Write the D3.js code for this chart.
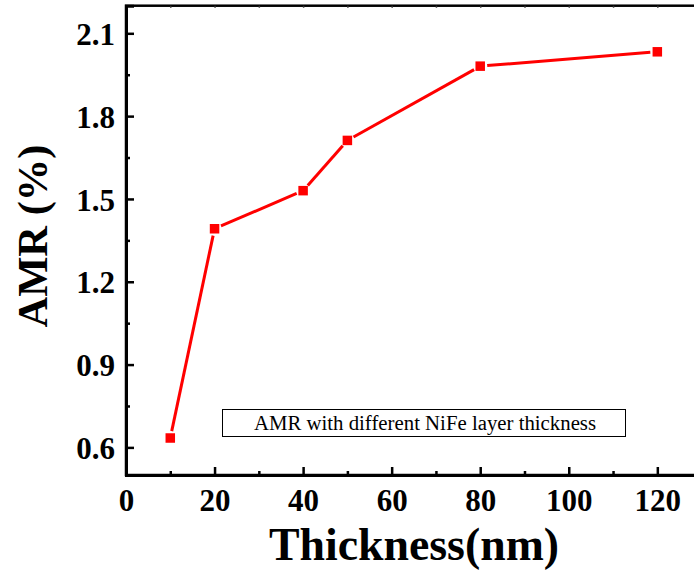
<!DOCTYPE html>
<html><head><meta charset="utf-8">
<script src="https://cdn.jsdelivr.net/npm/d3@7"></script>
<style>html,body{margin:0;padding:0;background:#fff;}svg{display:block;}</style>
</head><body>
<svg id="c" width="694" height="573"></svg>
<script>
const thickness = [10, 20, 40, 50, 80, 120];
const amr = [0.634, 1.392, 1.530, 1.712, 1.981, 2.033];
const xTicks = [0, 20, 40, 60, 80, 100, 120];
const xMinor = [10, 30, 50, 70, 90, 110, 130];
const yTicks = [0.6, 0.9, 1.2, 1.5, 1.8, 2.1];
const yMinor = [0.75, 1.05, 1.35, 1.65, 1.95];
const legendText = "AMR with different NiFe layer thickness";
const xTitle = "Thickness(nm)";
const yTitle = "AMR (%)";

const svg = d3.select("#c");
const L = 126, R = 701.6, T = 5.7, B = 475;
const x = d3.scaleLinear().domain([0, 130]).range([L, R]);
const y = d3.scaleLinear().domain([0.5, 2.2]).range([B, T]);
const serif = "'Liberation Serif','Times New Roman',serif";

// frame
svg.append("rect").attr("x", L).attr("y", T).attr("width", R - L).attr("height", B - T)
  .attr("fill", "none").attr("stroke", "#000").attr("stroke-width", 2.5);

// bottom axis
const gx = svg.append("g").attr("transform", `translate(0,${B})`)
  .call(d3.axisBottom(x).tickValues(xTicks).tickSize(-8).tickPadding(14).tickFormat(d3.format("d")));
gx.select(".domain").attr("stroke-width", 3);
gx.selectAll(".tick line").attr("stroke-width", 2.5);
gx.selectAll("text").attr("font-family", serif).attr("font-weight", "bold").attr("font-size", 31).attr("dy", "0.71em");
const gxm = svg.append("g").attr("transform", `translate(0,${B})`)
  .call(d3.axisBottom(x).tickValues(xMinor).tickSize(-4).tickFormat(""));
gxm.select(".domain").remove();
gxm.selectAll(".tick line").attr("stroke-width", 2.5);

// top ticks
const gt = svg.append("g").attr("transform", `translate(0,${T})`)
  .call(d3.axisTop(x).tickValues(xTicks.concat(xMinor)).tickSize(-2).tickFormat(""));
gt.select(".domain").remove();
gt.selectAll(".tick line").attr("stroke-width", 1.5).attr("stroke", "#333");

// left axis
const gy = svg.append("g").attr("transform", `translate(${L},0)`)
  .call(d3.axisLeft(y).tickValues(yTicks).tickSize(-8).tickPadding(11).tickFormat(d3.format(".1f")));
gy.select(".domain").attr("stroke-width", 3);
gy.selectAll(".tick line").attr("stroke-width", 2.5);
gy.selectAll("text").attr("font-family", serif).attr("font-weight", "bold").attr("font-size", 31).attr("dy", "0.36em");
const gym = svg.append("g").attr("transform", `translate(${L},0)`)
  .call(d3.axisLeft(y).tickValues(yMinor).tickSize(-4).tickFormat(""));
gym.select(".domain").remove();
gym.selectAll(".tick line").attr("stroke-width", 2.5);

// line segments with gaps near markers
const pts = thickness.map((t, i) => [x(t), y(amr[i])]);
const gap = 7;
const segs = d3.pairs(pts).map(([a, b]) => {
  const dx = b[0] - a[0], dy = b[1] - a[1], len = Math.hypot(dx, dy);
  const ux = dx / len, uy = dy / len;
  return [[a[0] + ux * gap, a[1] + uy * gap], [b[0] - ux * gap, b[1] - uy * gap]];
});
svg.append("g").selectAll("line").data(segs).join("line")
  .attr("x1", d => d[0][0]).attr("y1", d => d[0][1])
  .attr("x2", d => d[1][0]).attr("y2", d => d[1][1])
  .attr("stroke", "#ff0000").attr("stroke-width", 3);

const ms = 9.5;
svg.append("g").selectAll("rect").data(thickness).join("rect")
  .attr("x", (d) => x(d) - ms / 2).attr("y", (d, i) => y(amr[i]) - ms / 2)
  .attr("width", ms).attr("height", ms).attr("fill", "#ff0000");

// legend
svg.append("rect").attr("x", 222.5).attr("y", 409.5).attr("width", 403).attr("height", 27)
  .attr("fill", "#fff").attr("stroke", "#000").attr("stroke-width", 1);
svg.append("text").attr("x", 425).attr("y", 430).attr("text-anchor", "middle")
  .attr("font-family", serif).attr("font-size", 20.8).attr("fill", "#000").text(legendText);

// titles
svg.append("text").attr("x", 414).attr("y", 560).attr("text-anchor", "middle")
  .attr("font-family", serif).attr("font-weight", "bold").attr("font-size", 45.8).text(xTitle);
svg.append("text").attr("transform", "translate(47,236) rotate(-90)").attr("text-anchor", "middle")
  .attr("font-family", serif).attr("font-weight", "bold").attr("font-size", 42.5).text(yTitle);
</script>
</body></html>
